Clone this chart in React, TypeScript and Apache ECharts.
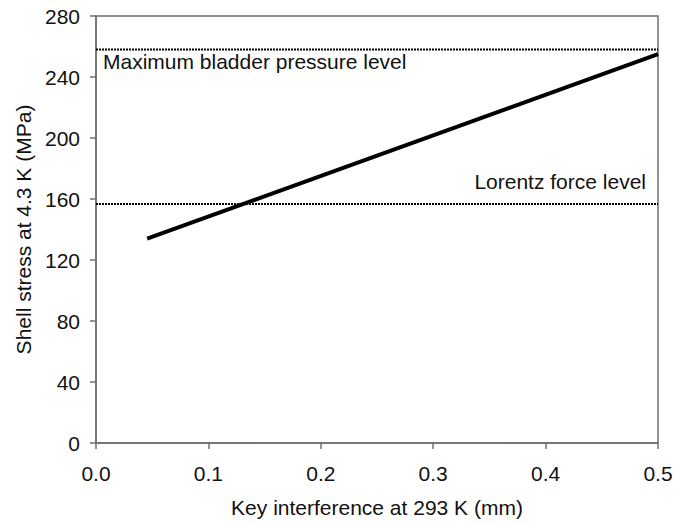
import React, { useEffect, useRef } from "react";
import * as echarts from "echarts";

const stressX = [0.0455, 0.5];
const stressY = [134, 255];
const maxBladderLevel = 258;
const lorentzLevel = 156.7;
const xRange = [0, 0.5];

export default function App() {
  const ref = useRef<HTMLDivElement>(null);
  useEffect(() => {
    if (!ref.current) return;
    const chart = echarts.init(ref.current, null, { renderer: "svg" });
    const font = "'Liberation Sans', Arial, sans-serif";
    const axisColor = "#6f6f6f";
    chart.setOption({
      animation: false,
      backgroundColor: "#ffffff",
      grid: { left: 96, right: 32, top: 16, bottom: 79, containLabel: false, show: true, borderColor: axisColor, borderWidth: 1.5 },
      xAxis: {
        type: "value",
        min: 0,
        max: 0.5,
        interval: 0.1,
        name: "Key interference at 293 K (mm)",
        nameLocation: "middle",
        nameGap: 54,
        nameTextStyle: { fontFamily: font, fontSize: 21, color: "#111" },
        axisLine: { show: true, lineStyle: { color: axisColor, width: 1.5 } },
        axisTick: { show: true, inside: false, length: 6, lineStyle: { color: axisColor, width: 1.5 } },
        axisLabel: { fontFamily: font, fontSize: 21, color: "#111", margin: 20, formatter: (v: number) => v.toFixed(1) },
        splitLine: { show: false },
      },
      yAxis: {
        type: "value",
        min: 0,
        max: 280,
        interval: 40,
        name: "Shell stress at 4.3 K (MPa)",
        nameLocation: "middle",
        nameGap: 62,
        nameRotate: 90,
        nameTextStyle: { fontFamily: font, fontSize: 21, color: "#111" },
        axisLine: { show: true, lineStyle: { color: axisColor, width: 1.5 } },
        axisTick: { show: true, inside: false, length: 6, lineStyle: { color: axisColor, width: 1.5 } },
        axisLabel: { fontFamily: font, fontSize: 21, color: "#111", margin: 16 },
        splitLine: { show: false },
      },
      series: [
        {
          type: "line",
          data: xRange.map((x) => [x, maxBladderLevel]),
          symbol: "none",
          lineStyle: { color: "#000", width: 2, type: [2, 1] },
        },
        {
          type: "line",
          data: xRange.map((x) => [x, lorentzLevel]),
          symbol: "none",
          lineStyle: { color: "#000", width: 2, type: [2, 1] },
        },
        {
          type: "line",
          data: stressX.map((x, i) => [x, stressY[i]]),
          symbol: "none",
          lineStyle: { color: "#000", width: 4 },
        },
      ],
      graphic: [
        {
          type: "text",
          left: 103,
          top: 51,
          style: { text: "Maximum bladder pressure level", fontFamily: font, fontSize: 21, fill: "#111" },
        },
        {
          type: "text",
          right: 44,
          top: 171,
          style: { text: "Lorentz force level", fontFamily: font, fontSize: 21, fill: "#111" },
        },
      ],
    });
    return () => chart.dispose();
  }, []);
  return <div ref={ref} style={{ width: 690, height: 523, position: "absolute", left: 0, top: 0 }} />;
}
